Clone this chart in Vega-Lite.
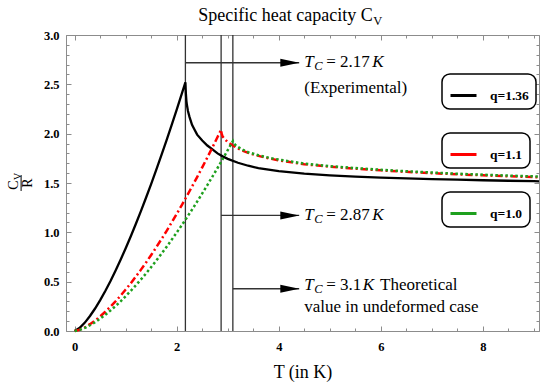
{
  "$schema": "https://vega.github.io/schema/vega-lite/v6.json",
  "width": 473,
  "height": 296,
  "autosize": {"type": "none"},
  "padding": {"left": 66, "top": 35, "right": 6, "bottom": 53},
  "background": "white",
  "config": {
    "view": {"stroke": "#8c8c8c", "strokeWidth": 1},
    "axis": {"domain": false, "grid": false, "labelFont": "Liberation Serif", "labelFontWeight": "bold", "labelFontSize": 12.5, "labelColor": "black", "tickColor": "#8c8c8c", "tickWidth": 1, "labelFlush": false, "titleFont": "Liberation Serif", "titleFontWeight": "normal", "titleColor": "black"},
    "legend": {"title": null, "orient": "none", "strokeColor": "black", "strokeWidth": 1.5, "cornerRadius": 8, "padding": 7, "fillColor": "white", "symbolType": "stroke", "symbolSize": 676, "symbolStrokeWidth": 3, "labelFont": "Liberation Serif", "labelFontWeight": "bold", "labelFontSize": 13.5, "labelOffset": 12, "labelColor": "black", "symbolDash": []}
  },
  "datasets": {
    "curves": [
      {"q": "q=1.36", "T": 0, "Cv": 0},
      {"q": "q=1.36", "T": 0.1, "Cv": 0.032},
      {"q": "q=1.36", "T": 0.2, "Cv": 0.085},
      {"q": "q=1.36", "T": 0.3, "Cv": 0.152},
      {"q": "q=1.36", "T": 0.4, "Cv": 0.228},
      {"q": "q=1.36", "T": 0.5, "Cv": 0.313},
      {"q": "q=1.36", "T": 0.6, "Cv": 0.406},
      {"q": "q=1.36", "T": 0.7, "Cv": 0.505},
      {"q": "q=1.36", "T": 0.8, "Cv": 0.611},
      {"q": "q=1.36", "T": 0.9, "Cv": 0.722},
      {"q": "q=1.36", "T": 1.0, "Cv": 0.839},
      {"q": "q=1.36", "T": 1.1, "Cv": 0.96},
      {"q": "q=1.36", "T": 1.2, "Cv": 1.087},
      {"q": "q=1.36", "T": 1.3, "Cv": 1.217},
      {"q": "q=1.36", "T": 1.4, "Cv": 1.353},
      {"q": "q=1.36", "T": 1.5, "Cv": 1.492},
      {"q": "q=1.36", "T": 1.6, "Cv": 1.635},
      {"q": "q=1.36", "T": 1.7, "Cv": 1.782},
      {"q": "q=1.36", "T": 1.8, "Cv": 1.932},
      {"q": "q=1.36", "T": 1.9, "Cv": 2.087},
      {"q": "q=1.36", "T": 2.0, "Cv": 2.244},
      {"q": "q=1.36", "T": 2.1, "Cv": 2.405},
      {"q": "q=1.36", "T": 2.17, "Cv": 2.52},
      {"q": "q=1.36", "T": 2.18, "Cv": 2.4},
      {"q": "q=1.36", "T": 2.19, "Cv": 2.33},
      {"q": "q=1.36", "T": 2.2, "Cv": 2.29},
      {"q": "q=1.36", "T": 2.22, "Cv": 2.23},
      {"q": "q=1.36", "T": 2.25, "Cv": 2.17},
      {"q": "q=1.36", "T": 2.3, "Cv": 2.09},
      {"q": "q=1.36", "T": 2.35, "Cv": 2.04},
      {"q": "q=1.36", "T": 2.4, "Cv": 1.99},
      {"q": "q=1.36", "T": 2.5, "Cv": 1.93},
      {"q": "q=1.36", "T": 2.6, "Cv": 1.88},
      {"q": "q=1.36", "T": 2.7, "Cv": 1.84},
      {"q": "q=1.36", "T": 2.8, "Cv": 1.8},
      {"q": "q=1.36", "T": 2.9, "Cv": 1.77},
      {"q": "q=1.36", "T": 3.0, "Cv": 1.745},
      {"q": "q=1.36", "T": 3.2, "Cv": 1.705},
      {"q": "q=1.36", "T": 3.4, "Cv": 1.675},
      {"q": "q=1.36", "T": 3.6, "Cv": 1.65},
      {"q": "q=1.36", "T": 3.8, "Cv": 1.635},
      {"q": "q=1.36", "T": 4.0, "Cv": 1.62},
      {"q": "q=1.36", "T": 4.5, "Cv": 1.595},
      {"q": "q=1.36", "T": 5.0, "Cv": 1.578},
      {"q": "q=1.36", "T": 5.5, "Cv": 1.565},
      {"q": "q=1.36", "T": 6.0, "Cv": 1.555},
      {"q": "q=1.36", "T": 6.5, "Cv": 1.547},
      {"q": "q=1.36", "T": 7.0, "Cv": 1.54},
      {"q": "q=1.36", "T": 7.5, "Cv": 1.534},
      {"q": "q=1.36", "T": 8.0, "Cv": 1.528},
      {"q": "q=1.36", "T": 8.5, "Cv": 1.523},
      {"q": "q=1.36", "T": 9.0, "Cv": 1.518},
      {"q": "q=1.36", "T": 9.1, "Cv": 1.517},
      {"q": "q=1.1", "T": 0, "Cv": 0},
      {"q": "q=1.1", "T": 0.1, "Cv": 0.013},
      {"q": "q=1.1", "T": 0.2, "Cv": 0.038},
      {"q": "q=1.1", "T": 0.3, "Cv": 0.069},
      {"q": "q=1.1", "T": 0.4, "Cv": 0.106},
      {"q": "q=1.1", "T": 0.5, "Cv": 0.148},
      {"q": "q=1.1", "T": 0.6, "Cv": 0.195},
      {"q": "q=1.1", "T": 0.7, "Cv": 0.246},
      {"q": "q=1.1", "T": 0.8, "Cv": 0.3},
      {"q": "q=1.1", "T": 0.9, "Cv": 0.358},
      {"q": "q=1.1", "T": 1.0, "Cv": 0.42},
      {"q": "q=1.1", "T": 1.1, "Cv": 0.484},
      {"q": "q=1.1", "T": 1.2, "Cv": 0.552},
      {"q": "q=1.1", "T": 1.3, "Cv": 0.622},
      {"q": "q=1.1", "T": 1.4, "Cv": 0.695},
      {"q": "q=1.1", "T": 1.5, "Cv": 0.771},
      {"q": "q=1.1", "T": 1.6, "Cv": 0.849},
      {"q": "q=1.1", "T": 1.7, "Cv": 0.93},
      {"q": "q=1.1", "T": 1.8, "Cv": 1.013},
      {"q": "q=1.1", "T": 1.9, "Cv": 1.099},
      {"q": "q=1.1", "T": 2.0, "Cv": 1.187},
      {"q": "q=1.1", "T": 2.1, "Cv": 1.277},
      {"q": "q=1.1", "T": 2.2, "Cv": 1.369},
      {"q": "q=1.1", "T": 2.3, "Cv": 1.464},
      {"q": "q=1.1", "T": 2.4, "Cv": 1.56},
      {"q": "q=1.1", "T": 2.5, "Cv": 1.659},
      {"q": "q=1.1", "T": 2.6, "Cv": 1.759},
      {"q": "q=1.1", "T": 2.7, "Cv": 1.861},
      {"q": "q=1.1", "T": 2.8, "Cv": 1.966},
      {"q": "q=1.1", "T": 2.87, "Cv": 2.04},
      {"q": "q=1.1", "T": 2.88, "Cv": 2.0},
      {"q": "q=1.1", "T": 2.9, "Cv": 1.97},
      {"q": "q=1.1", "T": 2.95, "Cv": 1.94},
      {"q": "q=1.1", "T": 3.0, "Cv": 1.915},
      {"q": "q=1.1", "T": 3.1, "Cv": 1.88},
      {"q": "q=1.1", "T": 3.2, "Cv": 1.85},
      {"q": "q=1.1", "T": 3.3, "Cv": 1.825},
      {"q": "q=1.1", "T": 3.4, "Cv": 1.805},
      {"q": "q=1.1", "T": 3.6, "Cv": 1.775},
      {"q": "q=1.1", "T": 3.8, "Cv": 1.75},
      {"q": "q=1.1", "T": 4.0, "Cv": 1.73},
      {"q": "q=1.1", "T": 4.25, "Cv": 1.71},
      {"q": "q=1.1", "T": 4.5, "Cv": 1.69},
      {"q": "q=1.1", "T": 5.0, "Cv": 1.665},
      {"q": "q=1.1", "T": 5.5, "Cv": 1.645},
      {"q": "q=1.1", "T": 6.0, "Cv": 1.628},
      {"q": "q=1.1", "T": 6.5, "Cv": 1.613},
      {"q": "q=1.1", "T": 7.0, "Cv": 1.6},
      {"q": "q=1.1", "T": 7.5, "Cv": 1.588},
      {"q": "q=1.1", "T": 8.0, "Cv": 1.578},
      {"q": "q=1.1", "T": 8.5, "Cv": 1.568},
      {"q": "q=1.1", "T": 9.0, "Cv": 1.56},
      {"q": "q=1.1", "T": 9.1, "Cv": 1.558},
      {"q": "q=1.0", "T": 0, "Cv": 0},
      {"q": "q=1.0", "T": 0.1, "Cv": 0.011},
      {"q": "q=1.0", "T": 0.2, "Cv": 0.032},
      {"q": "q=1.0", "T": 0.3, "Cv": 0.058},
      {"q": "q=1.0", "T": 0.4, "Cv": 0.089},
      {"q": "q=1.0", "T": 0.5, "Cv": 0.125},
      {"q": "q=1.0", "T": 0.6, "Cv": 0.164},
      {"q": "q=1.0", "T": 0.7, "Cv": 0.207},
      {"q": "q=1.0", "T": 0.8, "Cv": 0.252},
      {"q": "q=1.0", "T": 0.9, "Cv": 0.301},
      {"q": "q=1.0", "T": 1.0, "Cv": 0.353},
      {"q": "q=1.0", "T": 1.1, "Cv": 0.407},
      {"q": "q=1.0", "T": 1.2, "Cv": 0.464},
      {"q": "q=1.0", "T": 1.3, "Cv": 0.523},
      {"q": "q=1.0", "T": 1.4, "Cv": 0.584},
      {"q": "q=1.0", "T": 1.5, "Cv": 0.648},
      {"q": "q=1.0", "T": 1.6, "Cv": 0.714},
      {"q": "q=1.0", "T": 1.7, "Cv": 0.782},
      {"q": "q=1.0", "T": 1.8, "Cv": 0.852},
      {"q": "q=1.0", "T": 1.9, "Cv": 0.924},
      {"q": "q=1.0", "T": 2.0, "Cv": 0.998},
      {"q": "q=1.0", "T": 2.1, "Cv": 1.073},
      {"q": "q=1.0", "T": 2.2, "Cv": 1.151},
      {"q": "q=1.0", "T": 2.3, "Cv": 1.23},
      {"q": "q=1.0", "T": 2.4, "Cv": 1.311},
      {"q": "q=1.0", "T": 2.5, "Cv": 1.394},
      {"q": "q=1.0", "T": 2.6, "Cv": 1.479},
      {"q": "q=1.0", "T": 2.7, "Cv": 1.565},
      {"q": "q=1.0", "T": 2.8, "Cv": 1.652},
      {"q": "q=1.0", "T": 2.9, "Cv": 1.742},
      {"q": "q=1.0", "T": 3.0, "Cv": 1.833},
      {"q": "q=1.0", "T": 3.1, "Cv": 1.925},
      {"q": "q=1.0", "T": 3.12, "Cv": 1.9},
      {"q": "q=1.0", "T": 3.15, "Cv": 1.885},
      {"q": "q=1.0", "T": 3.2, "Cv": 1.865},
      {"q": "q=1.0", "T": 3.3, "Cv": 1.835},
      {"q": "q=1.0", "T": 3.4, "Cv": 1.812},
      {"q": "q=1.0", "T": 3.6, "Cv": 1.782},
      {"q": "q=1.0", "T": 3.8, "Cv": 1.757},
      {"q": "q=1.0", "T": 4.0, "Cv": 1.737},
      {"q": "q=1.0", "T": 4.25, "Cv": 1.717},
      {"q": "q=1.0", "T": 4.5, "Cv": 1.697},
      {"q": "q=1.0", "T": 5.0, "Cv": 1.671},
      {"q": "q=1.0", "T": 5.5, "Cv": 1.651},
      {"q": "q=1.0", "T": 6.0, "Cv": 1.634},
      {"q": "q=1.0", "T": 6.5, "Cv": 1.619},
      {"q": "q=1.0", "T": 7.0, "Cv": 1.606},
      {"q": "q=1.0", "T": 7.5, "Cv": 1.594},
      {"q": "q=1.0", "T": 8.0, "Cv": 1.584},
      {"q": "q=1.0", "T": 8.5, "Cv": 1.575},
      {"q": "q=1.0", "T": 9.0, "Cv": 1.567},
      {"q": "q=1.0", "T": 9.1, "Cv": 1.565}
    ],
    "tc": [{"T": 2.17}, {"T": 2.87}, {"T": 3.1}],
    "arrows": [
      {"T0": 2.17, "T1": 4.4, "Th": 4.216, "Cv": 2.719},
      {"T0": 2.87, "T1": 4.4, "Th": 4.216, "Cv": 1.171},
      {"T0": 3.1, "T1": 4.4, "Th": 4.216, "Cv": 0.428}
    ],
    "annot": [
      {"T": 4.133, "Cv": 3.142, "txt": "Specific heat capacity C", "kind": "title"},
      {"T": 5.853, "Cv": 3.101, "txt": "V", "kind": "tsub"},
      {"T": 4.5, "Cv": 2.676, "txt": "T", "kind": "it"},
      {"T": 4.696, "Cv": 2.646, "txt": "C", "kind": "sub"},
      {"T": 4.93, "Cv": 2.676, "txt": "= 2.17", "kind": "rm"},
      {"T": 5.83, "Cv": 2.676, "txt": "K", "kind": "it"},
      {"T": 4.5, "Cv": 2.409, "txt": "(Experimental)", "kind": "rm"},
      {"T": 4.5, "Cv": 1.125, "txt": "T", "kind": "it"},
      {"T": 4.696, "Cv": 1.095, "txt": "C", "kind": "sub"},
      {"T": 4.93, "Cv": 1.125, "txt": "= 2.87", "kind": "rm"},
      {"T": 5.83, "Cv": 1.125, "txt": "K", "kind": "it"},
      {"T": 4.5, "Cv": 0.42, "txt": "T", "kind": "it"},
      {"T": 4.696, "Cv": 0.39, "txt": "C", "kind": "sub"},
      {"T": 4.93, "Cv": 0.42, "txt": "= 3.1", "kind": "rm"},
      {"T": 5.647, "Cv": 0.42, "txt": "K", "kind": "it"},
      {"T": 5.985, "Cv": 0.42, "txt": "Theoretical", "kind": "rm"},
      {"T": 4.5, "Cv": 0.196, "txt": "value in undeformed case", "kind": "rm"},
      {"T": -1.186, "Cv": 1.48, "txt": "C", "kind": "yl"},
      {"T": -1.118, "Cv": 1.566, "txt": "V", "kind": "ylsub"},
      {"T": -0.912, "Cv": 1.5, "txt": "R", "kind": "yl"}
    ],
    "ybar": [{"T": -1.05, "Cv": 1.419, "Cv2": 1.581}]
  },
  "resolve": {"scale": {"color": "independent"}, "axis": {"x": "independent", "y": "independent"}},
  "layer": [
    {
      "data": {"name": "tc"},
      "mark": {"type": "rule", "color": "#333333", "strokeWidth": 1.3},
      "encoding": {
        "x": {"field": "T", "type": "quantitative", "scale": {"domain": [-0.17, 9.1], "nice": false, "zero": false}, "axis": null}
      }
    },
    {
      "data": {"name": "arrows"},
      "mark": {"type": "rule", "color": "#333333", "strokeWidth": 1.3},
      "encoding": {
        "x": {"field": "T0", "type": "quantitative", "axis": {"orient": "top", "values": [0, 0.5, 1, 1.5, 2, 2.5, 3, 3.5, 4, 4.5, 5, 5.5, 6, 6.5, 7, 7.5, 8, 8.5, 9], "labels": false, "tickSize": -3, "title": null}},
        "x2": {"field": "T1"},
        "y": {"field": "Cv", "type": "quantitative", "scale": {"domain": [0, 3], "nice": false, "zero": false}, "axis": {"orient": "right", "values": [0, 0.1, 0.2, 0.3, 0.4, 0.5, 0.6, 0.7, 0.8, 0.9, 1, 1.1, 1.2, 1.3, 1.4, 1.5, 1.6, 1.7, 1.8, 1.9, 2, 2.1, 2.2, 2.3, 2.4, 2.5, 2.6, 2.7, 2.8, 2.9, 3], "labels": false, "tickSize": -3, "title": null}}
      }
    },
    {
      "data": {"name": "arrows"},
      "mark": {"type": "point", "shape": "M-1,-0.42L1,0L-1,0.42Z", "filled": true, "color": "black", "opacity": 1, "size": 361},
      "encoding": {
        "x": {"field": "Th", "type": "quantitative", "axis": null},
        "y": {"field": "Cv", "type": "quantitative", "axis": null}
      }
    },
    {
      "data": {"name": "curves"},
      "transform": [{"filter": "datum.q === 'q=1.36'"}],
      "mark": {"type": "line", "strokeWidth": 2.3},
      "encoding": {
        "x": {"field": "T", "type": "quantitative", "axis": {"orient": "bottom", "values": [0, 2, 4, 6, 8], "tickSize": -5, "labelPadding": 14, "title": "T (in K)", "titleFontSize": 18, "titleY": 46, "titleBaseline": "alphabetic"}},
        "y": {"field": "Cv", "type": "quantitative", "axis": {"orient": "left", "values": [0, 0.5, 1, 1.5, 2, 2.5, 3], "format": ".1f", "tickSize": -5, "labelPadding": 12, "labelBaseline": "middle", "title": null}},
        "color": {"field": "q", "type": "nominal", "scale": {"domain": ["q=1.36"], "range": ["black"]}, "legend": {"legendX": 376, "legendY": 39}}
      }
    },
    {
      "data": {"name": "curves"},
      "transform": [{"filter": "datum.q === 'q=1.1'"}],
      "mark": {"type": "line", "strokeWidth": 2.5, "strokeDash": [7, 3, 2, 3]},
      "encoding": {
        "x": {"field": "T", "type": "quantitative", "axis": {"orient": "top", "values": [0, 2, 4, 6, 8], "labels": false, "tickSize": -5, "title": null}},
        "y": {"field": "Cv", "type": "quantitative", "axis": {"orient": "right", "values": [0, 0.5, 1, 1.5, 2, 2.5, 3], "labels": false, "tickSize": -5, "title": null}},
        "color": {"field": "q", "type": "nominal", "scale": {"domain": ["q=1.1"], "range": ["#ff0000"]}, "legend": {"legendX": 376, "legendY": 98, "encode": {"symbols": {"update": {"strokeDash": {"value": []}}}}}}
      }
    },
    {
      "data": {"name": "curves"},
      "transform": [{"filter": "datum.q === 'q=1.0'"}],
      "mark": {"type": "line", "strokeWidth": 2.5, "strokeDash": [2.5, 2.5]},
      "encoding": {
        "x": {"field": "T", "type": "quantitative", "axis": {"orient": "bottom", "values": [0, 0.5, 1, 1.5, 2, 2.5, 3, 3.5, 4, 4.5, 5, 5.5, 6, 6.5, 7, 7.5, 8, 8.5, 9], "labels": false, "tickSize": -3, "title": null}},
        "y": {"field": "Cv", "type": "quantitative", "axis": {"orient": "left", "values": [0, 0.1, 0.2, 0.3, 0.4, 0.5, 0.6, 0.7, 0.8, 0.9, 1, 1.1, 1.2, 1.3, 1.4, 1.5, 1.6, 1.7, 1.8, 1.9, 2, 2.1, 2.2, 2.3, 2.4, 2.5, 2.6, 2.7, 2.8, 2.9, 3], "labels": false, "tickSize": -3, "title": null}},
        "color": {"field": "q", "type": "nominal", "scale": {"domain": ["q=1.0"], "range": ["#1ea01e"]}, "legend": {"legendX": 376, "legendY": 157, "encode": {"symbols": {"update": {"strokeDash": {"value": []}}}}}}
      }
    },
    {
      "data": {"name": "annot"},
      "transform": [{"filter": "datum.kind === 'title'"}],
      "mark": {"type": "text", "font": "Liberation Serif", "fontSize": 18, "align": "center", "baseline": "alphabetic", "color": "black"},
      "encoding": {
        "x": {"field": "T", "type": "quantitative", "axis": null},
        "y": {"field": "Cv", "type": "quantitative", "axis": null},
        "text": {"field": "txt"}
      }
    },
    {
      "data": {"name": "annot"},
      "transform": [{"filter": "datum.kind === 'it'"}],
      "mark": {"type": "text", "font": "Liberation Serif", "fontStyle": "italic", "fontSize": 17, "align": "left", "baseline": "alphabetic", "color": "black"},
      "encoding": {
        "x": {"field": "T", "type": "quantitative", "axis": null},
        "y": {"field": "Cv", "type": "quantitative", "axis": null},
        "text": {"field": "txt"}
      }
    },
    {
      "data": {"name": "annot"},
      "transform": [{"filter": "datum.kind === 'sub'"}],
      "mark": {"type": "text", "font": "Liberation Serif", "fontStyle": "italic", "fontSize": 12.5, "align": "left", "baseline": "alphabetic", "color": "black"},
      "encoding": {
        "x": {"field": "T", "type": "quantitative", "axis": null},
        "y": {"field": "Cv", "type": "quantitative", "axis": null},
        "text": {"field": "txt"}
      }
    },
    {
      "data": {"name": "annot"},
      "transform": [{"filter": "datum.kind === 'rm'"}],
      "mark": {"type": "text", "font": "Liberation Serif", "fontSize": 17, "align": "left", "baseline": "alphabetic", "color": "black"},
      "encoding": {
        "x": {"field": "T", "type": "quantitative", "axis": null},
        "y": {"field": "Cv", "type": "quantitative", "axis": null},
        "text": {"field": "txt"}
      }
    },
    {
      "data": {"name": "annot"},
      "transform": [{"filter": "datum.kind === 'tsub'"}],
      "mark": {"type": "text", "font": "Liberation Serif", "fontSize": 12.5, "align": "left", "baseline": "alphabetic", "color": "black"},
      "encoding": {
        "x": {"field": "T", "type": "quantitative", "axis": null},
        "y": {"field": "Cv", "type": "quantitative", "axis": null},
        "text": {"field": "txt"}
      }
    },
    {
      "data": {"name": "annot"},
      "transform": [{"filter": "datum.kind === 'yl'"}],
      "mark": {"type": "text", "font": "Liberation Serif", "fontSize": 14, "align": "center", "baseline": "middle", "angle": 270, "color": "black"},
      "encoding": {
        "x": {"field": "T", "type": "quantitative", "axis": null},
        "y": {"field": "Cv", "type": "quantitative", "axis": null},
        "text": {"field": "txt"}
      }
    },
    {
      "data": {"name": "annot"},
      "transform": [{"filter": "datum.kind === 'ylsub'"}],
      "mark": {"type": "text", "font": "Liberation Serif", "fontSize": 10, "align": "center", "baseline": "middle", "angle": 270, "color": "black"},
      "encoding": {
        "x": {"field": "T", "type": "quantitative", "axis": null},
        "y": {"field": "Cv", "type": "quantitative", "axis": null},
        "text": {"field": "txt"}
      }
    },
    {
      "data": {"name": "ybar"},
      "mark": {"type": "rule", "color": "black", "strokeWidth": 1},
      "encoding": {
        "x": {"field": "T", "type": "quantitative", "axis": null},
        "y": {"field": "Cv", "type": "quantitative", "axis": null},
        "y2": {"field": "Cv2"}
      }
    }
  ]
}
